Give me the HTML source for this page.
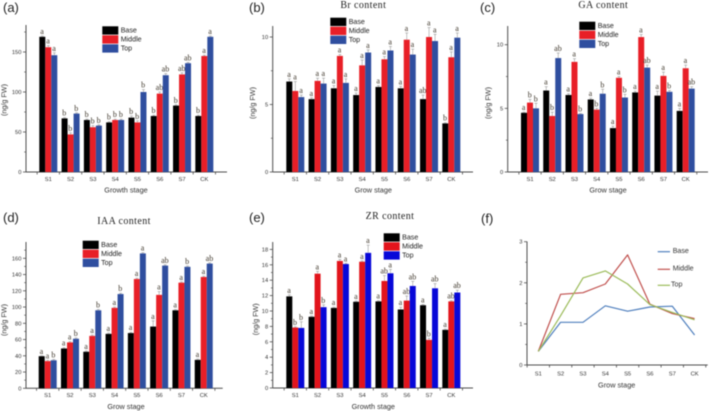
<!DOCTYPE html>
<html lang="en">
<head>
<meta charset="utf-8">
<title>Hormone content by growth stage</title>
<style>
html,body{margin:0;padding:0;background:#fff;width:709px;height:411px;overflow:hidden}
svg{display:block;filter:blur(0.45px)}
text{font-family:"Liberation Sans",sans-serif}
.serif{font-family:"Liberation Serif",serif}
</style>
</head>
<body>
<svg id="fig" xmlns="http://www.w3.org/2000/svg" width="709" height="411" viewBox="0 0 709 411"></svg>
<script>
const stages = ['S1','S2','S3','S4','S5','S6','S7','CK'];
const seriesNames = ['Base','Middle','Top'];

const aTicks = [0,50,100,150];
const aBase = [169,67,65,62,68,70,83,70];
const aMiddle = [156,47,56,65,62,98,122,145];
const aTop = [146,73,58,65,100,121,136,169];
const aBaseErr = [1,1,1,1,2,1,1,1];
const aMiddleErr = [2,2,2,1,2,2,2,1];
const aTopErr = [3,1,1,1,3,2,1,1];
const aBaseLetters = ['a','b','b','b','b','b','b','b'];
const aMiddleLetters = ['a','b','b','b','b','ab','ab','a'];
const aTopLetters = ['a','b','b','b','b','ab','ab','a'];

const bTicks = [0,5,10];
const bBase = [6.7,5.4,6.2,5.7,6.3,6.2,5.4,3.6];
const bMiddle = [6.0,6.75,8.6,7.9,8.35,9.8,10,8.5];
const bTop = [5.55,6.55,6.6,8.85,9.0,8.7,9.7,9.95];
const bBaseErr = [0.2,0.1,0.2,0.15,0.1,0.15,0.3,0.05];
const bMiddleErr = [0.7,0.2,0.1,0.4,0.2,0.5,0.7,0.4];
const bTopErr = [0.15,0.4,0.3,0.2,0.3,0.4,0.5,0.35];
const bBaseLetters = ['a','a','a','a','a','a','ab','b'];
const bMiddleLetters = ['a','a','a','a','a','a','a','a'];
const bTopLetters = ['a','a','a','a','a','a','a','a'];

const cTicks = [0,5,10];
const cBase = [4.65,6.4,6.05,5.7,3.45,6.25,6.0,4.8];
const cMiddle = [5.45,4.4,8.65,4.9,7.4,10.6,7.55,8.15];
const cTop = [5.0,8.95,4.55,6.15,5.85,8.2,6.3,6.55];
const cBaseErr = [0.05,0.3,0.1,0.1,0.15,0.1,0.35,0.2];
const cMiddleErr = [0.25,0.3,0.25,0.1,0.1,0.2,0.3,0.25];
const cTopErr = [0.4,0.4,0.05,0.35,0.25,0.2,0.1,0.15];
const cBaseLetters = ['a','a','a','a','a','a','a','a'];
const cMiddleLetters = ['b','b','a','b','a','a','a','a'];
const cTopLetters = ['b','ab','b','b','b','ab','b','ab'];

const dTicks = [0,20,40,60,80,100,120,140,160];
const dBase = [39.5,49,45,67,68,76,96,35];
const dMiddle = [33.5,56.5,64.5,99,134.5,115,130,137];
const dTop = [34.5,61,96,116,166,151,149.5,153.5];
const dBaseErr = [0.5,1,1,1,1,7,1,1];
const dMiddleErr = [1,1,1,1,1,4,1,1];
const dTopErr = [1,1,1,1,1,1,1,1];
const dBaseLetters = ['a','a','a','a','a','a','a','a'];
const dMiddleLetters = ['a','a','a','a','a','a','a','a'];
const dTopLetters = ['b','b','b','b','a','ab','b','ab'];

const eTicks = [0,2,4,6,8,10,12,14,16,18];
const eBase = [11.9,9.25,10.4,11.2,11.25,10.2,10.75,7.55];
const eMiddle = [7.85,14.85,16.5,16.4,13.9,11.35,6.25,11.25];
const eTop = [7.8,10.5,16.1,17.55,14.9,13.25,12.95,12.4];
const eBaseErr = [0.2,0.1,0.1,0.1,0.1,0.3,0.1,0.1];
const eMiddleErr = [0.1,0.3,0.2,0.1,0.7,0.6,0.2,0.1];
const eTopErr = [0.8,0.3,0.1,1.0,0.5,0.6,0.6,0.3];
const eBaseLetters = ['a','a','a','a','a','a','a','a'];
const eMiddleLetters = ['b','a','a','a','ab','ab','b','ab'];
const eTopLetters = ['b','b','a','a','a','ab','ab','ab'];

const fTicks = [0,1,2,3];
const fBase = [0.33,1.04,1.04,1.44,1.31,1.41,1.43,0.73];
const fMiddle = [0.33,1.72,1.76,1.97,2.68,1.48,1.25,1.13];
const fTop = [0.33,1.2,2.12,2.29,1.97,1.47,1.28,1.1];

const NS = 'http://www.w3.org/2000/svg';
const fig = document.getElementById('fig');
const AXIS = '#4d4d4d';
const TXT = '#333333';

function make(tag, attrs, text, parent) {
  const el = document.createElementNS(NS, tag);
  for (const k in attrs) el.setAttribute(k, attrs[k]);
  if (text !== undefined) el.textContent = text;
  (parent || fig).appendChild(el);
  return el;
}
function line(x1, y1, x2, y2, stroke, w, parent) {
  return make('line', {x1, y1, x2, y2, stroke, 'stroke-width': w}, undefined, parent);
}

function drawAxes(p, g) {
  const xAt = i => p.x0 + p.step * i;
  const yAt = v => p.y0 - v * p.unit;
  const yAxis = line(p.left, p.top, p.left, p.y0, AXIS, 1, g);
  
  
  const xAxis = line(p.left, p.y0, p.right, p.y0, AXIS, 1, g);
  
  
  for (let i = 0; i <= stages.length; i++) {
    const bx = xAt(i - 0.5);
    const t = line(bx, p.y0, bx, p.y0 + 2.5, AXIS, 0.8, g);
    
    
  }
  stages.forEach((s, i) => {
    const l = make('text', {x: xAt(i), y: p.tickY, 'font-size': 5.8, fill: TXT, 'text-anchor': 'middle'}, s, g);
    
    
  });
  p.ticks.forEach((v, i) => {
    const t = line(p.left - 3, yAt(v), p.left, yAt(v), AXIS, 0.8, g);
    
    
    const l = make('text', {x: p.left - 4.5, y: yAt(v) + 2, 'font-size': 5.8, fill: TXT, 'text-anchor': 'end'}, String(v), g);
    
    
    if (i < p.ticks.length - 1 || yAt(v + (p.ticks[1] - p.ticks[0]) / 2) > p.top) {
      const mid = v + (p.ticks[1] - p.ticks[0]) / 2;
      const m = line(p.left - 1.8, yAt(mid), p.left, yAt(mid), AXIS, 0.7, g);
      
      
    }
  });
  const xt = make('text', {x: p.xTitleX, y: p.xTitleY, 'font-size': 7.3, fill: TXT, 'text-anchor': 'middle'}, p.xTitle, g);
  
  
  return {xAt, yAt};
}

function barPanel(p) {
  const g = make('g', {});
  
  
  const {xAt, yAt} = drawAxes(p, g);
  const bw = 6;
  p.series.forEach((vals, s) => {
    vals.forEach((v, i) => {
      const bx = xAt(i) + (s - 1.5) * bw;
      const b = make('rect', {x: bx, y: yAt(v), width: bw, height: p.y0 - yAt(v), fill: p.colors[s]}, undefined, g);
      
      
      const top = v + p.errs[s][i];
      const cx = bx + bw / 2;
      const e = line(cx, yAt(v), cx, yAt(top), '#9a9a9a', 0.6, g);
      
      
      const c = line(cx - 1.5, yAt(top), cx + 1.5, yAt(top), '#9a9a9a', 0.6, g);
      
      
      const t = make('text', {x: cx - 0.3, y: yAt(top) - 2, 'font-size': 8, fill: '#3c3428', 'text-anchor': 'middle', 'class': 'serif'}, p.letters[s][i], g);
      
      
    });
  });
  seriesNames.forEach((n, s) => {
    const sw = make('rect', {x: p.legX, y: p.legY + s * 9, width: 16, height: 8.3, fill: p.colors[s]}, undefined, g);
    
    
    const t = make('text', {x: p.legX + 18.4, y: p.legY + 6.4 + s * 9, 'font-size': 7.1, fill: '#222'}, n, g);
    
    
  });
  const yt = make('text', {transform: 'translate(' + p.yTitleX + ' ' + p.yTitleY + ') rotate(-90)', 'font-size': 7.2, fill: TXT, 'text-anchor': 'middle'}, '(ng/g FW)', g);
  
  
}

const RED = '#e81f27';
const NAVY = '#2f4e9f';
const colorsStd = ['#000000', RED, NAVY];

barPanel({name:'panel-a-chart', x0:48.3, step:22.29, y0:172, unit:0.8, left:26, right:227, top:25, ticks:aTicks, tickY:181, xTitle:'Growth stage', xTitleX:126, xTitleY:192.7, yTitleX:6.5, yTitleY:100, legX:102.3, legY:26.3, colors:colorsStd, series:[aBase,aMiddle,aTop], errs:[aBaseErr,aMiddleErr,aTopErr], letters:[aBaseLetters,aMiddleLetters,aTopLetters]});
barPanel({name:'panel-b-chart', x0:295.3, step:22.29, y0:172, unit:13.5, left:272.7, right:473, top:26, ticks:bTicks, tickY:181, xTitle:'Grow stage', xTitleX:373.3, xTitleY:192.7, yTitleX:255, yTitleY:103, legX:330.3, legY:17.7, colors:colorsStd, series:[bBase,bMiddle,bTop], errs:[bBaseErr,bMiddleErr,bTopErr], letters:[bBaseLetters,bMiddleLetters,bTopLetters]});
barPanel({name:'panel-c-chart', x0:530, step:22.24, y0:172, unit:12.73, left:507.7, right:708, top:26, ticks:cTicks, tickY:181, xTitle:'Grow stage', xTitleX:608, xTitleY:192.7, yTitleX:490.5, yTitleY:103, legX:579.3, legY:21.7, colors:colorsStd, series:[cBase,cMiddle,cTop], errs:[cBaseErr,cMiddleErr,cTopErr], letters:[cBaseLetters,cMiddleLetters,cTopLetters]});
barPanel({name:'panel-d-chart', x0:47.7, step:22.29, y0:388.3, unit:0.8125, left:26, right:222.7, top:242, ticks:dTicks, tickY:397, xTitle:'Grow stage', xTitleX:126, xTitleY:409, yTitleX:6.5, yTitleY:320, legX:82.7, legY:240.7, colors:colorsStd, series:[dBase,dMiddle,dTop], errs:[dBaseErr,dMiddleErr,dTopErr], letters:[dBaseLetters,dMiddleLetters,dTopLetters]});
barPanel({name:'panel-e-chart', x0:295.3, step:22.29, y0:388, unit:7.7, left:272.7, right:473, top:242, ticks:eTicks, tickY:397, xTitle:'Growth stage', xTitleX:373.3, xTitleY:409, yTitleX:258, yTitleY:319.3, legX:383.7, legY:233.3, colors:['#000000', '#e2141c', '#0808d8'], series:[eBase,eMiddle,eTop], errs:[eBaseErr,eMiddleErr,eTopErr], letters:[eBaseLetters,eMiddleLetters,eTopLetters]});

/* Panel f: line chart */
(function () {
  const p = {x0:538.3, step:22.33, y0:365, unit:41.1, left:527, right:707.7, top:241.5, ticks:fTicks, tickY:375.7, xTitle:'Grow stage', xTitleX:616.7, xTitleY:387.7};
  const g = make('g', {});
  
  
  const {xAt, yAt} = drawAxes(p, g);
  const cols = ['#4f7fbd', '#c0504d', '#9bbb59'];
  [fBase, fMiddle, fTop].forEach((vals, s) => {
    const pts = vals.map((v, i) => xAt(i).toFixed(1) + ',' + yAt(v).toFixed(1)).join(' ');
    const pl = make('polyline', {points: pts, fill: 'none', stroke: cols[s], 'stroke-width': 1.2, 'stroke-linejoin': 'round'}, undefined, g);
    
    
  });
  const legRowsY = [251.7, 269.3, 285.3];
  const legTextX = [672.7, 672.7, 671];
  seriesNames.forEach((n, s) => {
    const l = line(657.7, legRowsY[s], 670, legRowsY[s], cols[s], 1.2, g);
    
    
    const t = make('text', {x: legTextX[s], y: legRowsY[s] + 1.2, 'font-size': 7.1, fill: '#333'}, n, g);
    
    
  });
})();

/* Panel letters */
const panelLabels = ['(a)','(b)','(c)','(d)','(e)','(f)'];
const panelLabelX = [3, 249, 480, 3, 249, 481];
const panelLabelY = [12, 12, 12, 222, 222, 223];
panelLabels.forEach((s, i) => {
  const t = make('text', {x: panelLabelX[i], y: panelLabelY[i], 'font-size': 13, fill: '#222'}, s);
  
  
});

/* Panel titles */
const chartTitles = ['Br content','GA content','IAA content','ZR content'];
const chartTitleX = [363.3, 603.3, 124, 390];
const chartTitleY = [8, 8, 224, 219];
chartTitles.forEach((s, i) => {
  const t = make('text', {x: chartTitleX[i], y: chartTitleY[i], 'font-size': 10, 'letter-spacing': 0.4, fill: '#222', 'text-anchor': 'middle', 'class': 'serif'}, s);
  
  
});
</script>
</body>
</html>
